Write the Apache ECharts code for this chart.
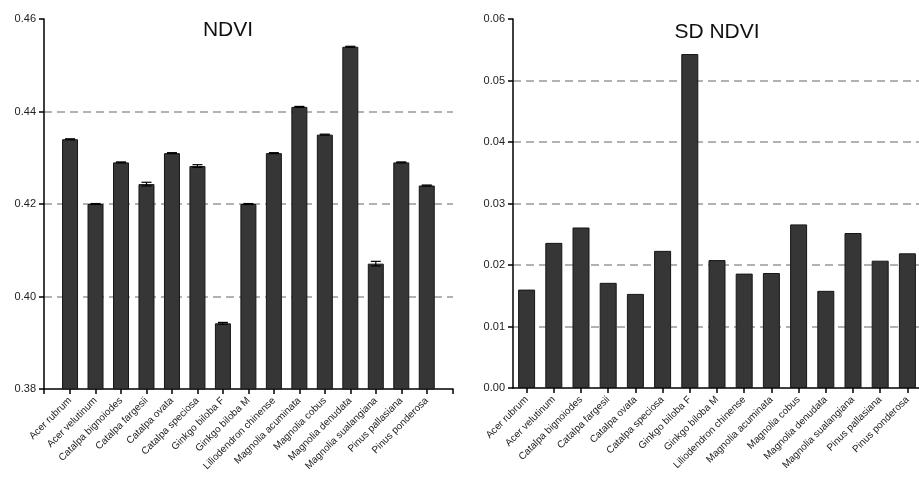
<!DOCTYPE html>
<html>
<head>
<meta charset="utf-8">
<script src="https://cdn.jsdelivr.net/npm/echarts@6/dist/echarts.min.js"></script>
<style>
  html, body { margin: 0; padding: 0; background: #fff; }
  #chart { width: 919px; height: 479px; }
</style>
</head>
<body>
<div id="chart"></div>
<script>
// Species (shared by both panels)
const species = [
  'Acer rubrum', 'Acer velutinum', 'Catalpa bignoiodes', 'Catalpa fargesii',
  'Catalpa ovata', 'Catalpa speciosa', 'Ginkgo biloba F', 'Ginkgo biloba M',
  'Liliodendron chinense', 'Magnolia acuminata', 'Magnolia cobus',
  'Magnolia denudata', 'Magnolia sualangiana', 'Pinus pallasiana', 'Pinus ponderosa'
];

// Mean NDVI per species and its error
const ndviMean = [0.434, 0.420, 0.429, 0.4243, 0.431, 0.4282, 0.3942, 0.420,
                  0.431, 0.441, 0.435, 0.454, 0.4071, 0.429, 0.424];
const ndviErr  = [0.0001, 0.0001, 0.0001, 0.0004, 0.0001, 0.0003, 0.0002, 0.0001,
                  0.0001, 0.0001, 0.0001, 0.0001, 0.0005, 0.0001, 0.0001];

// Standard deviation of NDVI per species
const sdNdvi = [0.0160, 0.0236, 0.0261, 0.0171, 0.0153, 0.0223, 0.0543, 0.0208,
                0.0186, 0.0187, 0.0266, 0.0158, 0.0252, 0.0207, 0.0219];

// Axis ranges
const ndviAxis = { min: 0.38, max: 0.46, step: 0.02 };
const sdAxis = { min: 0.00, max: 0.06, step: 0.01 };

const FONT = 'Liberation Sans, Arial, sans-serif';
const BAR_FILL = '#363636';
const BAR_EDGE = '#161616';
const TEXT = '#222';

const chart = echarts.init(document.getElementById('chart'), null, { renderer: 'canvas' });

function valueYAxis(grid, range, show) {
  return {
    type: 'value', gridIndex: grid,
    min: range.min, max: range.max, interval: range.step,
    show: show,
    axisLine: { show: true, lineStyle: { color: '#000', width: 1.5 } },
    axisTick: { show: true, length: 5, lineStyle: { color: '#000', width: 1.5 } },
    axisLabel: {
      show: true, margin: 8, color: TEXT, fontSize: 11, fontFamily: FONT,
      formatter: v => v.toFixed(2)
    },
    splitLine: {
      show: true, showMinLine: false, showMaxLine: false,
      lineStyle: { color: '#999', type: [8, 5], width: 1.5 }
    }
  };
}

function categoryXAxis(grid, showLine) {
  return {
    type: 'category', gridIndex: grid, data: species,
    axisLine: { show: showLine, lineStyle: { color: '#000', width: 1.5 } },
    axisTick: { show: true, alignWithLabel: true, length: 5, lineStyle: { color: '#000', width: 1.5 } },
    axisLabel: {
      interval: 0, rotate: 45, margin: 10, color: TEXT, fontSize: 10, fontFamily: FONT
    },
    splitLine: { show: false }
  };
}

// Error bar renderer: vertical whisker with caps
function errorBarItem(params, api) {
  const i = api.value(0);
  const lo = api.coord([i, api.value(1)]);
  const hi = api.coord([i, api.value(2)]);
  const cap = 5;
  const style = { stroke: '#000', lineWidth: 1.2 };
  return {
    type: 'group',
    children: [
      { type: 'line', shape: { x1: hi[0], y1: hi[1], x2: lo[0], y2: lo[1] }, style },
      { type: 'line', shape: { x1: hi[0] - cap, y1: hi[1], x2: hi[0] + cap, y2: hi[1] }, style },
      { type: 'line', shape: { x1: lo[0] - cap, y1: lo[1], x2: lo[0] + cap, y2: lo[1] }, style }
    ]
  };
}

const option = {
  animation: false,
  backgroundColor: '#fff',
  title: [
    { text: 'NDVI', left: 223, top: 15, textAlign: 'center',
      textStyle: { fontSize: 21, fontWeight: 'normal', color: '#111', fontFamily: FONT } },
    { text: 'SD NDVI', left: 712, top: 17, textAlign: 'center',
      textStyle: { fontSize: 21, fontWeight: 'normal', color: '#111', fontFamily: FONT } }
  ],
  grid: [
    // NDVI frame (y axis, gridlines, full-length x axis line)
    { left: 44, top: 19, width: 409, height: 370, containLabel: false, outerBoundsMode: 'none' },
    // NDVI bars
    { left: 57.3, top: 19, width: 382.2, height: 370, containLabel: false, outerBoundsMode: 'none' },
    // SD NDVI panel
    { left: 513, top: 19, width: 408, height: 369, containLabel: false, outerBoundsMode: 'none' }
  ],
  xAxis: [
    { type: 'value', gridIndex: 0, min: 0, max: 1, interval: 1,
      axisLine: { show: true, lineStyle: { color: '#000', width: 1.5 } },
      axisTick: { show: true, length: 5, lineStyle: { color: '#000', width: 1.5 } },
      axisLabel: { show: false }, splitLine: { show: false } },
    categoryXAxis(1, false),
    categoryXAxis(2, true)
  ],
  yAxis: [
    valueYAxis(0, ndviAxis, true),
    Object.assign(valueYAxis(1, ndviAxis, false), { show: false }),
    valueYAxis(2, sdAxis, true)
  ],
  series: [
    {
      name: 'NDVI', type: 'bar', xAxisIndex: 1, yAxisIndex: 1,
      data: ndviMean, barWidth: 16,
      itemStyle: { color: BAR_FILL, borderColor: BAR_EDGE, borderWidth: 1 },
      z: 3
    },
    {
      name: 'NDVI error', type: 'custom', xAxisIndex: 1, yAxisIndex: 1,
      data: ndviMean.map((m, i) => [i, m - ndviErr[i], m + ndviErr[i]]),
      renderItem: errorBarItem,
      encode: { x: 0, y: [1, 2] },
      z: 4
    },
    {
      name: 'SD NDVI', type: 'bar', xAxisIndex: 2, yAxisIndex: 2,
      data: sdNdvi, barWidth: 17,
      itemStyle: { color: BAR_FILL, borderColor: BAR_EDGE, borderWidth: 1 },
      z: 3
    }
  ]
};

chart.setOption(option);
</script>
</body>
</html>
